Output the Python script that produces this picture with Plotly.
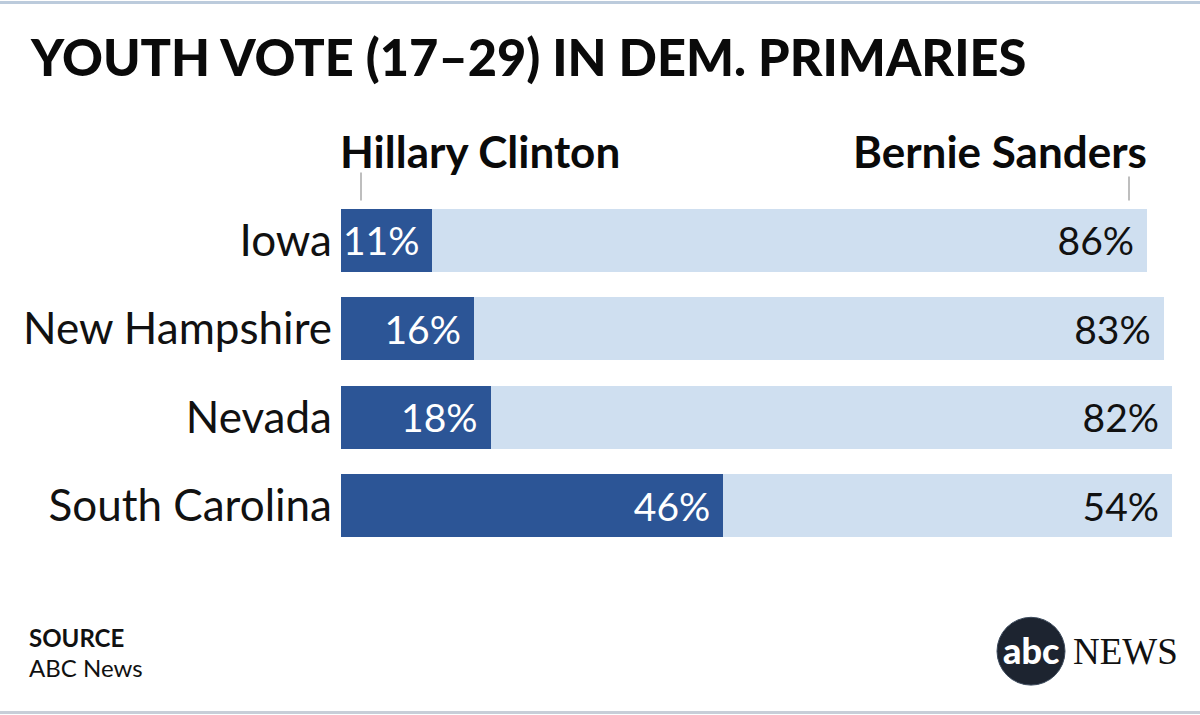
import plotly.graph_objects as go

states = ["Iowa", "New Hampshire", "Nevada", "South Carolina"]
clinton = [11, 16, 18, 46]
sanders = [86, 83, 82, 54]

title = "YOUTH VOTE (17–29) IN DEM. PRIMARIES"
source_head = "SOURCE"
source_text = "ABC News"

DARK = "#2c5596"
LIGHT = "#cfdff0"
FONT = "Lato"

W, H = 1200, 715
L, R, T, B = 341, 28, 195.5, 164.5
pw, ph = W - L - R, H - T - B


def px(x):
    return (x - L) / pw


def py(y):
    return (H - B - y) / ph


fig = go.Figure()

fig.add_trace(go.Bar(
    y=states, x=clinton, orientation="h", name="Hillary Clinton",
    marker=dict(color=DARK, line=dict(width=0)),
    text=[f"{v}%\u00a0" for v in clinton],
    textposition="inside", insidetextanchor="end", constraintext="none",
    textfont=dict(family=FONT, size=39, color="white"),
    hoverinfo="skip",
))
fig.add_trace(go.Bar(
    y=states, x=sanders, orientation="h", name="Bernie Sanders",
    marker=dict(color=LIGHT, line=dict(width=0)),
    text=[f"{v}%\u00a0" for v in sanders],
    textposition="inside", insidetextanchor="end", constraintext="none",
    textfont=dict(family=FONT, size=39, color="#111111"),
    hoverinfo="skip",
))

ann = [
    dict(text=title, x=px(28), y=py(88), xanchor="left", yanchor="bottom",
         font=dict(family=FONT, size=50.5, color="#0a0a0a", weight=900)),
    dict(text="Hillary Clinton", x=px(338), y=py(178), xanchor="left", yanchor="bottom",
         font=dict(family=FONT, size=44, color="#0a0a0a", weight=700)),
    dict(text="Bernie Sanders", x=px(1149), y=py(178), xanchor="right", yanchor="bottom",
         font=dict(family=FONT, size=44, color="#0a0a0a", weight=700)),
    dict(text=source_head, x=px(27), y=py(655), xanchor="left", yanchor="bottom",
         font=dict(family=FONT, size=24, color="#111111", weight=700)),
    dict(text=source_text, x=px(27), y=py(685), xanchor="left", yanchor="bottom",
         font=dict(family=FONT, size=24, color="#111111")),
    dict(text="abc", x=px(1031), y=py(651), xanchor="center", yanchor="middle",
         font=dict(family=FONT, size=36, color="white", weight=900)),
    dict(text="NEWS", x=px(1071), y=py(675), xanchor="left", yanchor="bottom",
         font=dict(family="Liberation Serif", size=37, color="#111111")),
]
for a in ann:
    a.update(xref="paper", yref="paper", showarrow=False)

shapes = [
    dict(type="line", x0=px(361), x1=px(361), y0=py(172), y1=py(200),
         line=dict(color="#a8a8a8", width=1.5)),
    dict(type="line", x0=px(1129), x1=px(1129), y0=py(176), y1=py(200),
         line=dict(color="#a8a8a8", width=1.5)),
    dict(type="rect", x0=px(0), x1=px(W), y0=py(0), y1=py(3),
         fillcolor="#bccbdc", line=dict(width=0)),
    dict(type="rect", x0=px(0), x1=px(W), y0=py(712), y1=py(715),
         fillcolor="#c8ced8", line=dict(width=0)),
    dict(type="circle", x0=px(997), x1=px(1065), y0=py(618), y1=py(686),
         fillcolor="#1d2430", line=dict(color="#3c4a5c", width=1)),
]
for s in shapes:
    s.update(xref="paper", yref="paper", layer="below")

fig.update_layout(
    width=W, height=H,
    margin=dict(l=L, r=R, t=T, b=B),
    paper_bgcolor="white", plot_bgcolor="white",
    barmode="stack", bargap=0.29, showlegend=False,
    annotations=ann, shapes=shapes,
    xaxis=dict(range=[0, 100], visible=False, fixedrange=True),
    yaxis=dict(autorange="reversed", showgrid=False, zeroline=False, showline=False,
               ticks="", ticklabelstandoff=8,
               tickfont=dict(family=FONT, size=44, color="#111111"), fixedrange=True),
)

# the page has a default 8px body margin; drop it so the figure sits at 0,0
fig.write_html("out.html", config={"displayModeBar": False},
               post_script="document.body.style.margin='0';document.body.style.overflow='hidden';")
